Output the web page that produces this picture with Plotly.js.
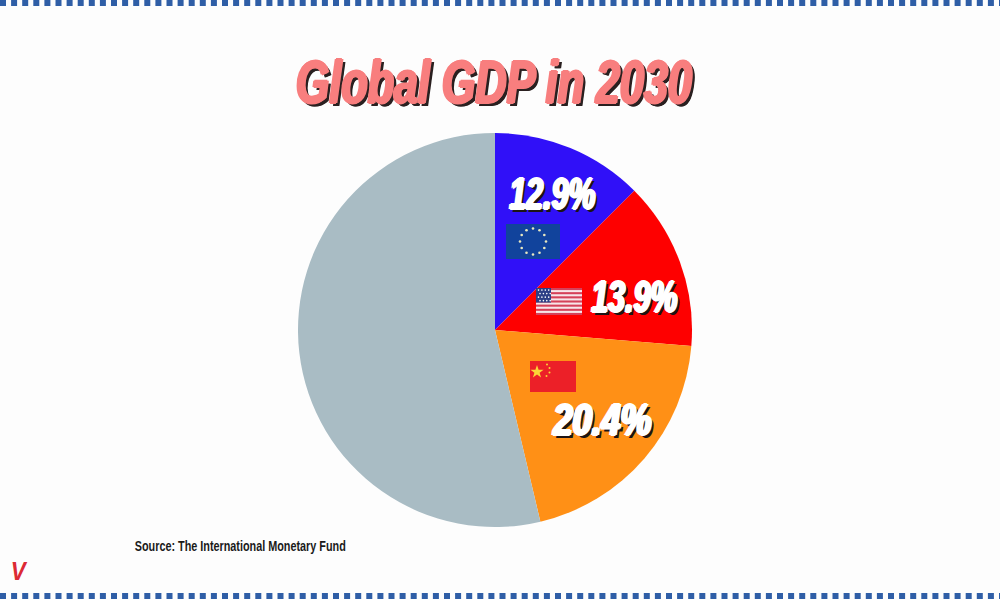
<!DOCTYPE html>
<html><head><meta charset="utf-8">
<script src="https://cdn.plot.ly/plotly-3.0.1.min.js"></script>
<style>html,body{margin:0;padding:0;background:#fff}</style></head>
<body><div id="chart" style="width:1000px;height:600px"></div>
<script>
const titleText = "Global GDP in 2030";
const sourceText = "Source: The International Monetary Fund";
const regions = ["EU", "USA", "China", "Rest of world"];
const sliceShares = [12.5, 13.8, 20.0, 53.7];
const sliceColors = ["#3010f8", "#fe0000", "#ff9016", "#a9bcc4"];
// Percentages as printed on the chart
const printedLabels = ["12.9%", "13.9%", "20.4%"];
const labelX = [552, 634, 602];
const labelY = [193, 296, 419];
const labelWidths = [86, 86, 98];

const W = 1000, H = 600;
const px = x => x / W, py = y => 1 - y / H;
const cx = 495, cy = 330, r = 197;

const svgUri = s => "data:image/svg+xml;base64," + btoa(s);
let euStars = "";
[[0,-10],[5,-8.7],[8.7,-5],[10,0],[8.7,5],[5,8.7],[0,10],[-5,8.7],[-8.7,5],[-10,0],[-8.7,-5],[-5,-8.7]]
  .forEach(p => euStars += `<circle cx="${27+p[0]*1.3}" cy="${17.5+p[1]*1.3}" r="1.3" fill="#e8e8c0"/>`);
const euFlag = `<svg xmlns="http://www.w3.org/2000/svg" width="54" height="35" viewBox="0 0 54 35"><rect width="54" height="35" fill="#11439c"/>${euStars}</svg>`;
let stripes = "";
for (let i = 0; i < 13; i += 2) stripes += `<rect x="0" y="${i*2}" width="46" height="2" fill="#d5415a"/>`;
let usStars = "";
for (let a = 0; a < 4; a++) for (let b = 0; b < 4; b++) usStars += `<circle cx="${2.5+b*3.4+(a%2)*1.5}" cy="${2+a*3.4}" r="0.8" fill="#fff"/>`;
const usFlag = `<svg xmlns="http://www.w3.org/2000/svg" width="46" height="26" viewBox="0 0 46 26"><rect width="46" height="26" fill="#f7e6ea"/>${stripes}<rect width="15" height="14" fill="#2d3f86"/>${usStars}</svg>`;
const cnFlag = `<svg xmlns="http://www.w3.org/2000/svg" width="46" height="31" viewBox="0 0 46 31"><rect width="46" height="31" fill="#ec2028"/><polygon points="7,4 8.6,8.7 13.6,8.7 9.6,11.7 11.1,16.4 7,13.5 2.9,16.4 4.4,11.7 0.4,8.7 5.4,8.7" fill="#fbd437"/><circle cx="17" cy="3.5" r="1" fill="#fbd437"/><circle cx="19.5" cy="7" r="1" fill="#fbd437"/><circle cx="19.5" cy="11.5" r="1" fill="#fbd437"/><circle cx="16.5" cy="15" r="1" fill="#fbd437"/></svg>`;

const img = (s, x0, y0, w, h) => ({source: svgUri(s), xref:"paper", yref:"paper", x:px(x0), y:py(y0),
  sizex:w/W, sizey:h/H, xanchor:"left", yanchor:"top", sizing:"stretch", layer:"above"});

const fat = (c, d) => `${d}px 0 0 ${c}, -${d}px 0 0 ${c}, 0 1px 0 ${c}, 0 -1px 0 ${c}`;
const note = (text, x, y, font) => ({text, x:px(x), y:py(y), xref:"paper", yref:"paper", showarrow:false,
  xanchor:"center", yanchor:"middle", font});
const face = "'Liberation Sans', sans-serif";

const annotations = [
  note(titleText, 494, 81, {family:face, size:62, weight:700, style:"italic", color:"#f87e7e",
    shadow: fat("#f87e7e", 2) + ", 4px 3px 0 #2a2020, 5px 3px 0 #2a2020"}),
  note(sourceText, 240, 545, {family:face, size:15, weight:700, color:"#1a1a1a"}),
  note("V", 19, 571, {family:face, size:25, weight:700, style:"italic", color:"#dc2a34"})
];
printedLabels.forEach((t, i) => annotations.push(note(t, labelX[i], labelY[i], {family:face, size:44, weight:700,
  style:"italic", color:"#ffffff", shadow: fat("#ffffff", 2) + ", 4px 3px 0 #1c1414"})));

// Condensed width of each text: no narrow face is installed, so glyphs are fitted to the reference widths
const fitWidths = {[titleText]:396, [sourceText]:211, V:15};
printedLabels.forEach((t, i) => fitWidths[t] = labelWidths[i]);

const dash = y => ({type:"line", xref:"paper", yref:"paper", x0:0, x1:1, y0:py(y), y1:py(y),
  line:{color:"#2f5ea6", width:6, dash:"6px,5.1px"}});

Plotly.newPlot("chart", [{
  type:"pie", labels:regions, values:sliceShares, sort:false, direction:"clockwise", rotation:0,
  marker:{colors:sliceColors, line:{width:0}}, textinfo:"none", hoverinfo:"skip",
  domain:{x:[px(cx-r), px(cx+r)], y:[py(cy+r), py(cy-r)]}
}], {
  width:W, height:H, margin:{l:0,r:0,t:0,b:0}, showlegend:false,
  paper_bgcolor:"#fdfdfd", plot_bgcolor:"#fdfdfd",
  annotations, shapes:[dash(3), dash(596)],
  images:[img(euFlag,506,224,54,35), img(usFlag,536,288,46,27), img(cnFlag,530,361,46,31)]
}, {displayModeBar:false, staticPlot:true}).then(() => {
  document.querySelectorAll("#chart .annotation-text").forEach(t => {
    const w = fitWidths[t.textContent];
    if (w) { t.setAttribute("textLength", w); t.setAttribute("lengthAdjust", "spacingAndGlyphs"); }
  });
});
</script></body></html>
